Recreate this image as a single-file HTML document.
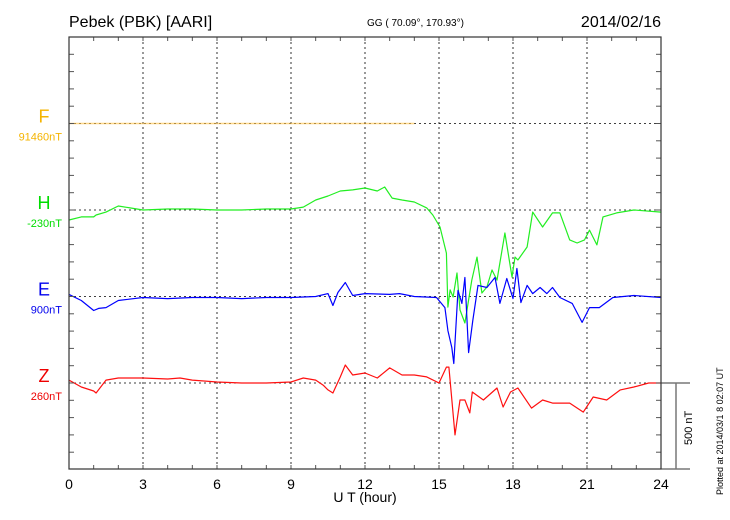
<!DOCTYPE html>
<html><head><meta charset="utf-8"><style>
body{margin:0;background:#fff;}
svg{display:block;font-family:"Liberation Sans",sans-serif;}
</style></head><body>
<svg id="chart" width="730" height="520" viewBox="0 0 730 520">
<text x="69" y="27" font-size="16" fill="#000">Pebek (PBK)  [AARI]</text>
<text x="367" y="26" font-size="10" fill="#000">GG ( 70.09°, 170.93°)</text>
<text x="661" y="27" font-size="16" fill="#000" text-anchor="end">2014/02/16</text>
<g id="grid"></g><g id="series"></g><g id="axes"></g>
<text x="365" y="502" font-size="14" text-anchor="middle">U T (hour)</text>
<text transform="translate(723,495) rotate(-90)" font-size="9">Plotted at 2014/03/1 8 02:07 UT</text>
<text transform="translate(692,445) rotate(-90)" font-size="11">500 nT</text>
</svg>
<script>
const hours=[0,3,6,9,12,15,18,21,24];
const fT=[0,14];const fV=[0,0];
const hT=[0,0.5,1,1.1,1.5,2,3,4,5,6,7,8,9,9.5,10,10.5,11,11.5,12,12.5,12.8,13.1,13.5,14,14.5,14.75,15.04,15.3,15.36,15.45,15.57,15.73,15.85,16.05,16.33,16.54,16.74,16.94,17.15,17.35,17.67,17.96,18.08,18.2,18.57,18.8,19.2,19.6,19.9,20.3,20.6,20.9,21.1,21.4,21.65,22.2,22.9,24];
const hV=[-58,-40,-40,-29,-12,23,0,6,6,0,0,6,6,17,58,81,110,116,127,110,133,69,58,46,12,-29,-98,-249,-561,-462,-503,-364,-578,-653,-405,-272,-480,-445,-347,-405,-133,-387,-272,-289,-214,-12,-98,-17,-17,-173,-191,-173,-116,-202,-40,-17,0,-12];
const eT=[0,0.5,1,1.2,1.5,2,3,4,5,6,7,8,9,10,10.5,10.7,10.9,11.2,11.5,12,13,13.4,14,14.9,15.24,15.36,15.52,15.6,15.77,15.93,16.05,16.2,16.37,16.58,16.94,17.27,17.47,17.75,18,18.16,18.32,18.57,18.8,19.1,19.37,19.6,19.9,20.4,20.8,21.1,21.5,22.05,22.9,24];
const eV=[12,-23,-81,-69,-64,-23,-6,-12,-6,-6,-12,-6,-6,0,17,-52,23,81,6,17,12,17,0,-6,-64,-197,-295,-387,35,-40,110,-324,-139,64,52,110,-40,104,-12,162,-35,64,17,52,17,52,-6,-40,-150,-64,-64,-6,6,-6];
const zT=[0,0.5,1,1.1,1.5,2,3,4,4.5,5,6,7,8,9,9.5,10,10.3,10.5,10.7,11,11.2,11.5,12,12.5,13,13.5,14,14.5,15,15.3,15.4,15.65,15.85,16.05,16.25,16.35,16.8,17.35,17.6,17.9,18.2,18.75,19.2,19.6,20.3,20.85,21.25,21.8,22.35,22.9,23.5,24];
const zV=[17,-23,-46,-58,17,29,29,23,29,17,6,0,0,6,29,17,-12,-40,-58,35,104,46,58,29,87,46,46,35,0,92,92,-300,-98,-98,-173,-52,-98,-29,-139,-52,-29,-145,-98,-116,-116,-168,-81,-98,-40,-23,0,0];
const X0=69,X1=661,Y0=37,Y1=469,PXNT=86.5/500;
const base={F:123.5,H:210,E:296.5,Z:383};
function xs(h){return X0+(X1-X0)*h/24;}
function ys(b,v){return base[b]-v*PXNT;}
const NS='http://www.w3.org/2000/svg';
function mk(t,a,p){const e=document.createElementNS(NS,t);for(const k in a)e.setAttribute(k,a[k]);p.appendChild(e);return e;}
const grid=document.getElementById('grid'),ax=document.getElementById('axes'),se=document.getElementById('series');
hours.forEach((h,i)=>{
  if(i>0&&i<hours.length-1){const l=mk('line',{x1:xs(h),x2:xs(h),y1:Y0,y2:Y1,stroke:'#000','stroke-width':0.8,'stroke-dasharray':'2,3'},grid);
  
  }
  const t=mk('text',{x:xs(h),y:489,'font-size':14,'text-anchor':'middle'},ax);t.textContent=h;
  
  
});
['F','H','E','Z'].forEach(k=>{
  const l=mk('line',{x1:X0,x2:X1,y1:base[k],y2:base[k],stroke:'#000','stroke-width':0.8,'stroke-dasharray':'2,3'},grid);
  
  
});
for(let h=1;h<24;h++){mk('line',{x1:xs(h),x2:xs(h),y1:Y0,y2:Y0+4,stroke:'#555'},ax);mk('line',{x1:xs(h),x2:xs(h),y1:Y1,y2:Y1-4,stroke:'#555'},ax);}
for(let y=Y0+17.3;y<Y1-1;y+=17.3){mk('line',{x1:X0,x2:X0+5,y1:y,y2:y,stroke:'#555'},ax);mk('line',{x1:X1,x2:X1-5,y1:y,y2:y,stroke:'#555'},ax);}
const fr=mk('rect',{x:X0,y:Y0,width:X1-X0,height:Y1-Y0,fill:'none',stroke:'#333','stroke-width':1.2},ax);


mk('line',{x1:X1,x2:690,y1:383,y2:383,stroke:'#333'},ax);
mk('line',{x1:X1,x2:690,y1:Y1,y2:Y1,stroke:'#333'},ax);
const sb=mk('line',{x1:676,x2:676,y1:383,y2:Y1,stroke:'#777','stroke-width':1.5},ax);


const defs=[['F',fT,fV,'#f5b400','#ffc040','91460nT'],['H',hT,hV,'#00dd00','#22ee22','-230nT'],['E',eT,eV,'#0000ee','#0000ff','900nT'],['Z',zT,zV,'#ee0000','#ff1010','260nT']];
defs.forEach(([k,T,V,lc,c,bl])=>{
  const d=T.map((t,i)=>(i?'L':'M')+xs(t).toFixed(1)+','+ys(k,V[i]).toFixed(1)).join('');
  const p=mk('path',{d:d,fill:'none',stroke:c,'stroke-width':k==='F'?1.5:1.2,'stroke-linejoin':'round','stroke-opacity':k==='F'?0.6:1},se);
  
  
  const t=mk('text',{x:44,y:base[k]-1,'font-size':18,'text-anchor':'middle',fill:lc},ax);t.textContent=k;
  
  
  const b=mk('text',{x:62,y:base[k]+17,'font-size':11,'text-anchor':'end',fill:lc},ax);b.textContent=bl;
  
  
});
</script>
</body></html>
